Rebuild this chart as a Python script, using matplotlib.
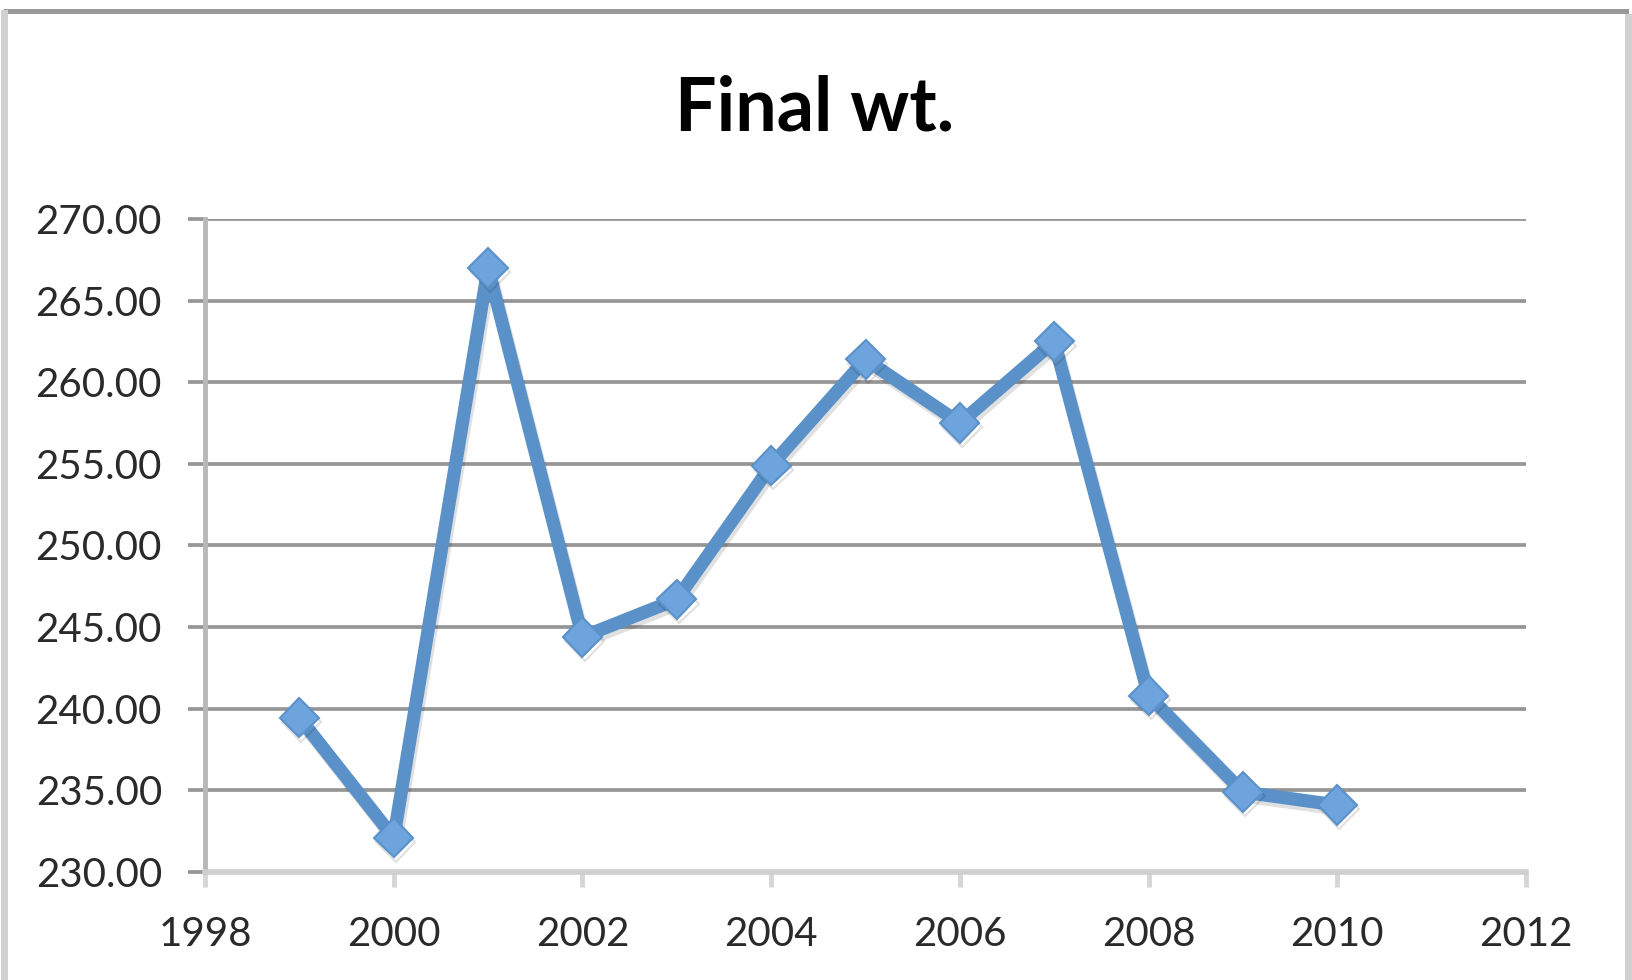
import matplotlib
matplotlib.use("Agg")
import matplotlib.pyplot as plt
import matplotlib.patheffects as pe
from matplotlib.patches import Rectangle
from matplotlib.ticker import FormatStrFormatter

# data
anos = [1999, 2000, 2001, 2002, 2003, 2004, 2005, 2006, 2007, 2008, 2009, 2010]
peso_final = [239.45, 232.1, 267.0, 244.4, 246.7, 254.9, 261.4, 257.5, 262.5, 240.8, 234.9, 234.1]
x_ticks = [1998, 2000, 2002, 2004, 2006, 2008, 2010, 2012]
y_ticks = [230, 235, 240, 245, 250, 255, 260, 265, 270]
titulo = "Final wt."

plt.rcParams['font.family'] = ['Lato', 'DejaVu Sans']

W, H = 1633, 980
fig = plt.figure(figsize=(W / 100, H / 100), dpi=100)
fig.patch.set_facecolor("white")

ax = fig.add_axes([205 / W, 1 - 872 / H, (1526 - 205) / W, (872 - 219) / H])

azul = "#5a91c9"
ax.plot(anos, peso_final, color=azul, linewidth=9.5, marker="D", markersize=20,
        markerfacecolor="#6ea4dd", markeredgecolor=azul, markeredgewidth=1.5,
        solid_joinstyle="round", zorder=3,
        path_effects=[pe.SimpleLineShadow(offset=(1.5, -3), shadow_color="black", alpha=0.12),
                      pe.Normal()])

ax.set_xlim(1998, 2012)
ax.set_ylim(230, 270)
ax.set_xticks(x_ticks)
ax.set_yticks(y_ticks)
ax.yaxis.set_major_formatter(FormatStrFormatter("%.2f"))

ax.grid(axis="y", color="#969696", linewidth=2.7, zorder=1)
ax.set_axisbelow(True)

for s in ["top", "right"]:
    ax.spines[s].set_visible(False)
ax.spines["left"].set_color("#b8b8b8")
ax.spines["left"].set_linewidth(3.5)
ax.spines["bottom"].set_color("#cfcfcf")
ax.spines["bottom"].set_linewidth(4)

ax.tick_params(axis="y", length=12, width=2.7, color="#969696", pad=19,
               labelsize=29, labelcolor="#2a2a2a")
ax.tick_params(axis="x", length=11, width=3.5, color="#d6d6d6", pad=21,
               labelsize=29, labelcolor="#2a2a2a")

fig.text(815 / W, 1 - 109 / H, titulo, ha="center", va="center",
         fontsize=53, fontweight="bold", color="black")

# frame of the chart object (screenshot border)
fig.add_artist(Rectangle((4 / W, 1 - 14 / H), (1629 - 4) / W, 5 / H,
                         transform=fig.transFigure, color="#999999", lw=0))
fig.add_artist(Rectangle((1 / W, 0), 7 / W, 1 - 10 / H,
                         transform=fig.transFigure, color="#d0d0d0", lw=0))
fig.add_artist(Rectangle((1625 / W, 0), 7 / W, 1 - 14 / H,
                         transform=fig.transFigure, color="#d0d0d0", lw=0))

fig.savefig("out.png", dpi=100, facecolor="white")
